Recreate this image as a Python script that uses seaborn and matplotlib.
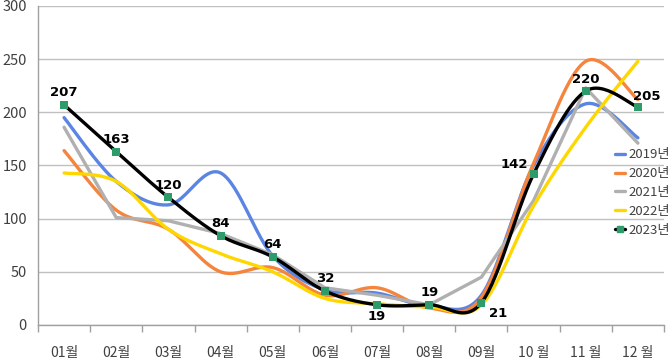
import numpy as np
import pandas as pd
import matplotlib
matplotlib.use("Agg")
import matplotlib.pyplot as plt
import seaborn as sns
from matplotlib.lines import Line2D

months = ["01월", "02월", "03월", "04월", "05월", "06월", "07월", "08월", "09월", "10 월", "11 월", "12 월"]
y2019 = [195, 135, 113, 143, 65, 33, 30, 18, 28, 150, 208, 176]
y2020 = [164, 108, 90, 50, 54, 28, 35, 16, 26, 152, 248, 212]
y2021 = [186, 101, 98, 86, 66, 35, 28, 19, 45, 117, 223, 171]
y2022 = [143, 135, 90, 67, 50, 25, 20, 17, 19, 112, 186, 248]
y2023 = [207, 163, 120, 84, 64, 32, 19, 19, 21, 142, 220, 205]

series_names = ["2019년", "2020년", "2021년", "2022년", "2023년"]
colors = ["#5B85E2", "#F5843C", "#B0B0B0", "#FFD700", "#000000"]
smooth_flags = [True, True, False, True, True]


def smooth_curve(vals, n=30):
    # catmull-rom style bezier, like excel's "smoothed line"
    p = np.array(vals, dtype=float)
    xs = np.arange(len(p), dtype=float)
    out_x, out_y = [], []
    for i in range(len(p) - 1):
        x0, x3 = xs[i], xs[i + 1]
        pm = p[i - 1] if i > 0 else p[i]
        pn = p[i + 2] if i + 2 < len(p) else p[i + 1]
        xm = xs[i - 1] if i > 0 else xs[i]
        xn = xs[i + 2] if i + 2 < len(p) else xs[i + 1]
        c1 = (x0 + (x3 - xm) / 6, p[i] + (p[i + 1] - pm) / 6)
        c2 = (x3 - (xn - x0) / 6, p[i + 1] - (pn - p[i]) / 6)
        t = np.linspace(0, 1, n, endpoint=(i == len(p) - 2))
        bx = (1-t)**3*x0 + 3*(1-t)**2*t*c1[0] + 3*(1-t)*t**2*c2[0] + t**3*x3
        by = (1-t)**3*p[i] + 3*(1-t)**2*t*c1[1] + 3*(1-t)*t**2*c2[1] + t**3*p[i+1]
        out_x.extend(bx)
        out_y.extend(by)
    return np.array(out_x), np.array(out_y)


sns.set_theme(style="white")
plt.rcParams['font.family'] = ['Noto Sans CJK KR', 'DejaVu Sans']

fig = plt.figure(figsize=(6.68, 3.6), dpi=100)
ax = fig.add_axes([38/668, 1-325/360, (664-38)/668, (325-6)/360])

all_series = [y2019, y2020, y2021, y2022, y2023]
for name, vals, col, sm in zip(series_names, all_series, colors, smooth_flags):
    if sm:
        sx, sy = smooth_curve(vals)
    else:
        sx, sy = np.arange(len(vals)), np.array(vals)
    df = pd.DataFrame({"x": sx, "y": sy})
    sns.lineplot(data=df, x="x", y="y", ax=ax, color=col, lw=2.4, sort=False,
                 estimator=None, zorder=3 if name != "2023년" else 4)

ax.scatter(np.arange(12), y2023, marker="s", s=36, color="#2E9B6A", zorder=5, linewidths=0)

# data labels for 2023
offsets = [(0, 4), (0, 4), (0, 4), (0, 4), (0, 4), (0, 4), (0, -4), (0, 4), (12, -3),
           (-14, 2), (0, 4), (6, 3)]
for i, (v, off) in enumerate(zip(y2023, offsets)):
    ax.annotate(str(v), (i, v), xytext=off, textcoords="offset points",
                ha="center", va="bottom" if off[1] > 0 else "top",
                fontsize=9.5, fontweight="bold", color="black", zorder=6,
                family=['DejaVu Sans'])

ax.set_xlim(-0.5, 11.5)
ax.set_ylim(0, 300)
ax.set_yticks(range(0, 301, 50))
ax.set_xticks(range(12))
ax.set_xticklabels(months)
ax.set_xticks(np.arange(-0.5, 12, 1), minor=True)
ax.set_xlabel("")
ax.set_ylabel("")
ax.yaxis.grid(True, color="#C0C0C0", lw=1)
ax.set_axisbelow(True)
for s in ["top", "right"]:
    ax.spines[s].set_visible(False)
for s in ["left", "bottom"]:
    ax.spines[s].set_color("#A0A0A0")
    ax.spines[s].set_linewidth(1)
ax.tick_params(axis="x", which="major", length=0, pad=15, labelsize=10, labelcolor="#404040")
ax.tick_params(axis="x", which="minor", length=5, color="#A0A0A0", bottom=True)
ax.tick_params(axis="y", length=0, pad=8, labelsize=10.5, labelcolor="#404040")

handles = []
for name, col in zip(series_names, colors):
    if name == "2023년":
        h = Line2D([], [], color=col, lw=2.4, marker="s", markersize=4,
                   markerfacecolor="#2E9B6A", markeredgecolor="#2E9B6A")
    else:
        h = Line2D([], [], color=col, lw=2.4)
    handles.append(h)
ax.legend(handles, series_names, loc="center left", bbox_to_anchor=(0.913, 0.415),
          frameon=False, fontsize=9.5, handlelength=0.8, handletextpad=0.2,
          labelspacing=0.45, borderaxespad=0, labelcolor="#404040")

fig.savefig("out.png", dpi=100)
